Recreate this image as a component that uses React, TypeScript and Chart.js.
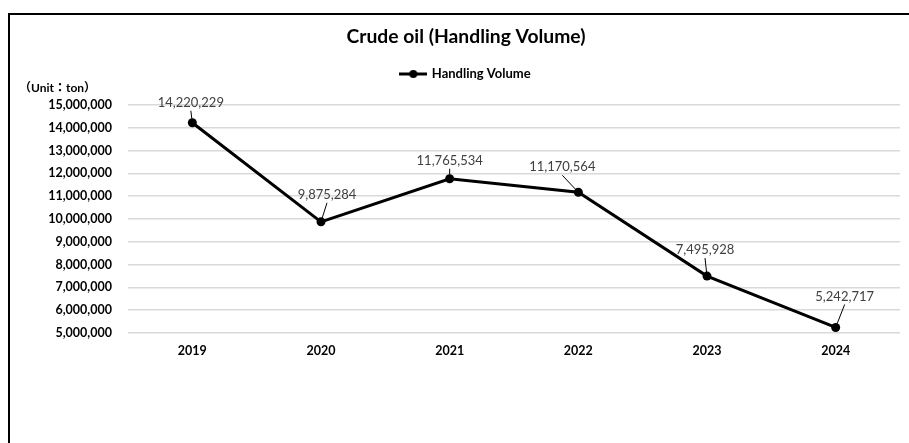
import React, { useEffect, useRef } from 'react';
import { Chart, registerables } from 'chart.js';

Chart.register(...registerables);

// ---- data ----
const categories: string[] = ['2019', '2020', '2021', '2022', '2023', '2024'];
const handlingVolume: number[] = [14220229, 9875284, 11765534, 11170564, 7495928, 5242717];
const yMin = 5000000;
const yMax = 15000000;
const yStep = 1000000;
const seriesLabel = 'Handling Volume';
const titleText = 'Crude oil (Handling Volume)';
const unitText = '（Unit：ton）';

// label placement (offsets from each point, in px)
const labelOffsets: [number, number][] = [
  [-1.5, -20],
  [6, -27],
  [0, -18],
  [-16, -25],
  [-2, -26],
  [9, -31],
];

const FAMILY = 'Lato, "Noto Sans CJK JP", "DejaVu Sans", sans-serif';

function makeLegendIcon(): HTMLCanvasElement {
  const c = document.createElement('canvas');
  c.width = 28;
  c.height = 10;
  const g = c.getContext('2d')!;
  g.strokeStyle = '#000';
  g.lineWidth = 3;
  g.beginPath();
  g.moveTo(0, 5);
  g.lineTo(28, 5);
  g.stroke();
  g.fillStyle = '#000';
  g.beginPath();
  g.arc(14, 5, 4, 0, Math.PI * 2);
  g.fill();
  return c;
}

const dataLabelPlugin = {
  id: 'dataLabels',
  afterDatasetsDraw(chart: any) {
    const meta = chart.getDatasetMeta(0);
    const ctx = chart.ctx as CanvasRenderingContext2D;
    ctx.save();
    ctx.font = `13px ${FAMILY}`;
    ctx.textAlign = 'center';
    ctx.textBaseline = 'middle';
    meta.data.forEach((pt: any, i: number) => {
      const v = handlingVolume[i];
      const [dx, dy] = labelOffsets[i];
      const lx = pt.x + dx;
      const ly = pt.y + dy;
      ctx.fillStyle = '#404040';
      ctx.fillText(v.toLocaleString('en-US'), lx, ly);
      const sx = lx;
      const sy = ly + 8;
      const ddx = pt.x - sx;
      const ddy = pt.y - sy;
      const len = Math.hypot(ddx, ddy);
      if (len > 6) {
        const ex = pt.x - (ddx / len) * 4;
        const ey = pt.y - (ddy / len) * 4;
        ctx.beginPath();
        ctx.moveTo(sx, sy);
        ctx.lineTo(ex, ey);
        ctx.strokeStyle = '#000';
        ctx.lineWidth = 1;
        ctx.stroke();
      }
    });
    ctx.restore();
  },
};

const unitPlugin = {
  id: 'unitLabel',
  afterDraw(chart: any) {
    const ctx = chart.ctx as CanvasRenderingContext2D;
    ctx.save();
    ctx.font = `bold 12px ${FAMILY}`;
    ctx.fillStyle = '#000';
    ctx.textAlign = 'left';
    ctx.textBaseline = 'middle';
    ctx.fillText(unitText, 19, chart.chartArea.top - 17);
    ctx.restore();
  },
};

export default function App() {
  const ref = useRef<HTMLCanvasElement | null>(null);

  useEffect(() => {
    if (!ref.current) return;
    const icon = makeLegendIcon();
    const chart = new Chart(ref.current, {
      type: 'line',
      data: {
        labels: categories,
        datasets: [
          {
            label: seriesLabel,
            data: handlingVolume,
            borderColor: '#000',
            backgroundColor: '#000',
            borderWidth: 3,
            pointRadius: 4.5,
            pointBackgroundColor: '#000',
            pointBorderColor: '#000',
            pointBorderWidth: 0,
            tension: 0,
            fill: false,
          },
        ],
      },
      options: {
        animation: false,
        responsive: false,
        devicePixelRatio: 1,
        layout: { padding: { left: 32, right: 9, top: 0, bottom: 75 } },
        plugins: {
          title: {
            display: true,
            text: titleText,
            color: '#000',
            font: { family: FAMILY, size: 19.3, weight: 'bold' },
            padding: { top: 25.4, bottom: 8.9 },
          },
          subtitle: {
            display: true,
            text: '',
            weight: 500,
            font: { family: FAMILY, size: 12 },
            padding: { top: 0, bottom: 0.1 },
          },
          legend: {
            display: true,
            labels: {
              usePointStyle: true,
              pointStyleWidth: 24,
              padding: 10,
              color: '#000',
              font: { family: FAMILY, size: 13, weight: 'bold' },
              generateLabels: () => [
                {
                  text: seriesLabel,
                  pointStyle: icon as any,
                  fillStyle: '#000',
                  strokeStyle: '#000',
                  lineWidth: 0,
                  hidden: false,
                  datasetIndex: 0,
                  fontColor: '#000',
                },
              ],
            },
          },
          tooltip: { enabled: false },
        },
        scales: {
          x: {
            type: 'category',
            offset: true,
            grid: { display: false, drawTicks: false },
            border: { display: false },
            ticks: {
              color: '#000',
              padding: 10,
              font: { family: FAMILY, size: 12.5, weight: 'bold' },
            },
          },
          y: {
            min: yMin,
            max: yMax,
            grid: { color: '#d9d9d9', lineWidth: 1.5, drawTicks: false },
            border: { display: false },
            ticks: {
              stepSize: yStep,
              color: '#000',
              padding: 16,
              font: { family: FAMILY, size: 12.5, weight: 'bold' },
              callback: (v: any) => Number(v).toLocaleString('en-US'),
            },
            afterFit: (s: any) => {
              s.width = 96;
            },
          },
        },
      } as any,
      plugins: [dataLabelPlugin, unitPlugin],
    });
    return () => chart.destroy();
  }, []);

  return (
    <div style={{ position: 'fixed', left: 0, top: 0, width: 909, height: 443, overflow: 'hidden', background: '#fff' }}>
      <canvas ref={ref} width={909} height={443} style={{ position: 'absolute', left: 0, top: 0, width: 909, height: 443, display: 'block' }} />
      <div
        style={{
          position: 'absolute',
          left: 8,
          top: 13,
          width: 2000,
          height: 2000,
          borderLeft: '2px solid #000',
          borderTop: '2px solid #000',
          pointerEvents: 'none',
        }}
      />
    </div>
  );
}
